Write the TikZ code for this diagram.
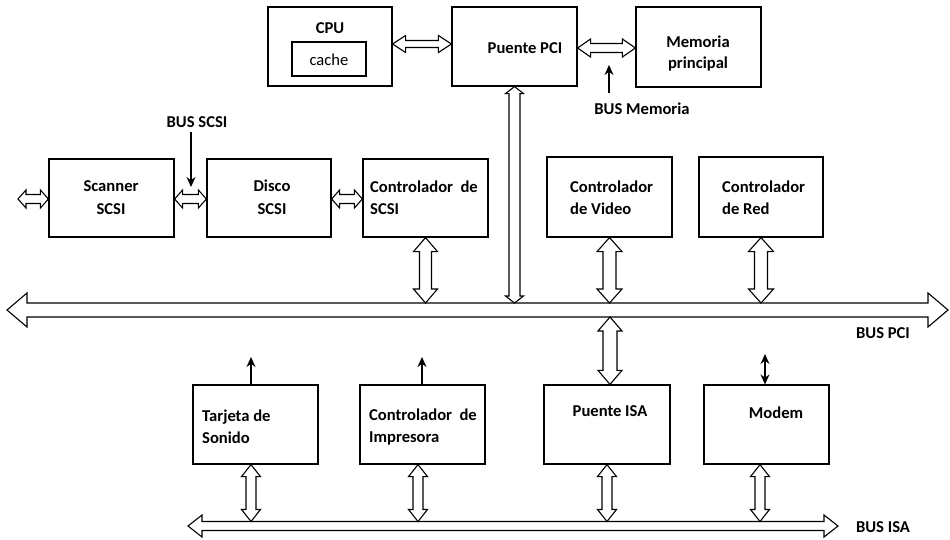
\documentclass[tikz,border=0pt]{standalone}
\usepackage{fontspec}
\setmainfont{Carlito}
\usetikzlibrary{calc,arrows.meta}
% hollow block arrows (canvas coordinates)
\newcommand\HArrow[5]{\path[busline] let \p1=#1, \p2=#2 in (\x1,\y1) -- (\x1+#5,\y1+#4) -- (\x1+#5,\y1+#3) -- (\x2-#5,\y1+#3) -- (\x2-#5,\y1+#4) -- (\x2,\y1) -- (\x2-#5,\y1-#4) -- (\x2-#5,\y1-#3) -- (\x1+#5,\y1-#3) -- (\x1+#5,\y1-#4) -- cycle;}
\newcommand\VArrow[5]{\path[busline] let \p1=#1, \p2=#2 in (\x1,\y1) -- (\x1+#4,\y1-#5) -- (\x1+#3,\y1-#5) -- (\x1+#3,\y2+#5) -- (\x1+#4,\y2+#5) -- (\x1,\y2) -- (\x1-#4,\y2+#5) -- (\x1-#3,\y2+#5) -- (\x1-#3,\y1-#5) -- (\x1-#4,\y1-#5) -- cycle;}
\begin{document}
\begin{tikzpicture}[x=1pt,y=-1pt,
  box/.style={draw,line width=1.2pt,minimum width=125pt,minimum height=79pt,inner sep=0pt},
  lbl/.style={font=\fontsize{16.6}{22.5}\selectfont\bfseries,align=left,inner sep=0pt,anchor=west},
  clbl/.style={font=\fontsize{16.6}{22}\selectfont\bfseries,align=center,inner sep=0pt},
  sigarrow/.style={line width=1.2pt,-{Stealth[length=10pt,width=9pt]}},
  busline/.style={draw,fill=white,line width=1.1pt,line join=miter}]
\useasboundingbox (0,0) rectangle (950,539);

% ---------- boxes ----------
\node[box,minimum width=124pt] (cpu) at (330,46.5) {};
\node[draw,line width=1.2pt,minimum width=74pt,minimum height=34pt,inner sep=0pt] (cache) at (329,59) {};
\node[clbl] (cputxt) at (330,28) {CPU};
\node[font=\fontsize{16.6}{19}\selectfont,inner sep=0pt] (cachetxt) at (329,60) {cache};

\node[box] (pci) at (514.5,46.5) {};
\node[clbl] (pcitxt) at (525,48) {Puente PCI};

\node[box,minimum height=80pt] (mem) at (698.5,47) {};
\node[clbl,font=\fontsize{16.6}{21}\selectfont\bfseries] (memtxt) at (698,53) {Memoria\\principal};

\node[box,minimum height=78pt] (scanner) at (111.5,198) {};
\node[clbl,font=\fontsize{16.6}{23}\selectfont\bfseries] (scantxt) at (111,197.5) {Scanner\\SCSI};
\node[box,minimum height=78pt,minimum width=124pt] (disco) at (269,198) {};
\node[clbl,font=\fontsize{16.6}{23}\selectfont\bfseries] (discotxt) at (272,197.5) {Disco\\SCSI};
\node[box,minimum height=78pt] (ctrlscsi) at (425.5,198) {};
\node[lbl] (ctrlscsitxt) at (370,197.5) {Controlador~~de\\SCSI};

\node[box,minimum height=80pt] (video) at (609.5,197) {};
\node[lbl] (videotxt) at (570,197.5) {Controlador\\de Video};
\node[box,minimum height=80pt,minimum width=124pt] (red) at (761,197) {};
\node[lbl] (redtxt) at (722,197.5) {Controlador\\de Red};

\node[box] (tarjeta) at (255.5,424.5) {};
\node[lbl,font=\fontsize{16.6}{22}\selectfont\bfseries] (tarjetatxt) at (202,427) {Tarjeta de\\Sonido};
\node[box] (impresora) at (422.5,424.5) {};
\node[lbl,font=\fontsize{16.6}{22}\selectfont\bfseries] (impresoratxt) at (369,427) {Controlador~~de\\Impresora};
\node[box,minimum width=126pt] (isa) at (607,424.5) {};
\node[clbl] (isatxt) at (610,411) {Puente ISA};
\node[box] (modem) at (766.5,424.5) {};
\node[clbl] (modemtxt) at (776,413) {Modem};

% ---------- labels ----------
\node[clbl] (busmem) at (642,109) {BUS Memoria};
\node[clbl] (busscsi) at (197,122) {BUS SCSI};
\node[clbl] (buspci) at (883,333) {BUS PCI};
\node[clbl] (busisa) at (883,527) {BUS ISA};

% ---------- coordinates ----------
\coordinate (pciL) at (7,310);
\coordinate (pciR) at (948,310);
\coordinate (pcitop) at (0,303);
\coordinate (isaL) at (188,526);
\coordinate (isaR) at (838,526);
\coordinate (isatop) at (0,521.5);
\coordinate (scanext) at (18,199);
\coordinate (memtail) at (609,93);
\coordinate (memtip) at (609,65);
\coordinate (scsitail) at (191,132);
\coordinate (scsitip) at (191,187);
\coordinate (isaup) at (610,317);
\coordinate (sndx) at (251,0);
\coordinate (prnx) at (418,0);
\coordinate (prnupx) at (422,0);
\coordinate (isadx) at (607,0);
\coordinate (modemx) at (760,0);
\coordinate (modemupx) at (765,0);
\coordinate (sndout) at (251,357);
\coordinate (prnout) at (422,357);
\coordinate (modemout) at (765,354);

% ---------- buses ----------
\HArrow{(pciL)}{(pciR)}{7pt}{17pt}{20pt}
\HArrow{(isaL)}{(isaR)}{4.5pt}{11pt}{14pt}

% ---------- top row ----------
\HArrow{([yshift=2.5pt]cpu.east)}{([yshift=2.5pt]pci.west)}{3.5pt}{8.5pt}{13pt}
\HArrow{([yshift=-1.5pt]pci.east)}{([yshift=-1.5pt]mem.west)}{4.5pt}{9pt}{13pt}
\draw[sigarrow] (memtail) -- (memtip);
\VArrow{(pci.south)}{(pci.south |- pcitop)}{5.5pt}{9pt}{7pt}

% ---------- SCSI row ----------
\HArrow{(scanext)}{([yshift=-1pt]scanner.west)}{4.5pt}{9pt}{8pt}
\HArrow{([yshift=-1pt]scanner.east)}{([yshift=-1pt]disco.west)}{4.5pt}{9pt}{8pt}
\HArrow{([yshift=-1pt]disco.east)}{([yshift=-1pt]ctrlscsi.west)}{4.5pt}{9pt}{8pt}
\draw[sigarrow] (scsitail) -- (scsitip);
\VArrow{(ctrlscsi.south)}{(ctrlscsi.south |- pcitop)}{6pt}{12pt}{14pt}
\VArrow{(video.south)}{(video.south |- pcitop)}{6.5pt}{12.5pt}{14pt}
\VArrow{(red.south)}{(red.south |- pcitop)}{6.5pt}{12.5pt}{14pt}

% ---------- PCI -> ISA bridge ----------
\VArrow{(isaup)}{(isaup |- isa.north)}{7pt}{12pt}{14pt}

% ---------- ISA row ----------
\draw[sigarrow] (sndx |- tarjeta.north) -- (sndout);
\draw[sigarrow] (prnupx |- impresora.north) -- (prnout);
\draw[line width=1.2pt,{Stealth[length=10pt,width=9pt]}-{Stealth[length=10pt,width=9pt]}] (modemupx |- modem.north) -- (modemout);
\VArrow{(sndx |- tarjeta.south)}{(sndx |- isatop)}{5pt}{9.5pt}{12pt}
\VArrow{(prnx |- impresora.south)}{(prnx |- isatop)}{5pt}{9.5pt}{12pt}
\VArrow{(isadx |- isa.south)}{(isadx |- isatop)}{5pt}{9.5pt}{12pt}
\VArrow{(modemx |- modem.south)}{(modemx |- isatop)}{5pt}{9.5pt}{12pt}
\end{tikzpicture}
\end{document}
